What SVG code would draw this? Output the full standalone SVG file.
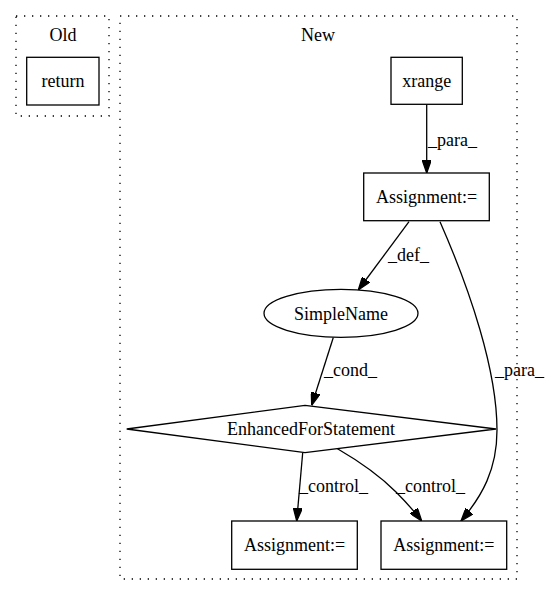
<svg xmlns="http://www.w3.org/2000/svg" width="549" height="596" viewBox="0 0 549 596">
<style>
text { font-family: "Liberation Serif", "Times New Roman", serif; font-size: 18px; fill: #000; }
.c { text-anchor: middle; }
.cluster { fill: none; stroke: #000; stroke-width: 1.3; stroke-dasharray: 1.3,6.7; }
.node { fill: #fff; stroke: #000; stroke-width: 1.3; }
.edge { fill: none; stroke: #000; stroke-width: 1.3; }
</style>
<defs>
<marker id="arr" viewBox="0 0 10 7" markerUnits="userSpaceOnUse" markerWidth="13" markerHeight="9.3" refX="10" refY="3.5" orient="auto">
<path d="M0,0 L10,3.5 L0,7 z" fill="#000" stroke="#000"/>
</marker>
</defs>
<rect width="549" height="596" fill="#fff"/>
<g id="cluster_old">
<rect class="cluster" x="16" y="16" width="93" height="100"/>
<text class="c" x="63" y="41">Old</text>
</g>
<g id="cluster_new">
<rect class="cluster" x="120" y="16" width="397" height="563"/>
<text class="c" x="318" y="41">New</text>
</g>
<g id="edges">
<path class="edge" d="M426.7,104.5 L426.7,173" marker-end="url(#arr)"/>
<text x="428" y="146">_para_</text>
<path class="edge" d="M409,221.7 L358.3,290" marker-end="url(#arr)"/>
<text x="388" y="261">_def_</text>
<path class="edge" d="M440,221.7 C470,290 497,370 497,430 C497,470 482,496 461,521" marker-end="url(#arr)"/>
<text x="495" y="376">_para_</text>
<path class="edge" d="M333.3,337.5 L311.7,405.3" marker-end="url(#arr)"/>
<text x="324" y="376">_cond_</text>
<path class="edge" d="M302.7,452.7 L296.7,521" marker-end="url(#arr)"/>
<text x="299" y="492">_control_</text>
<path class="edge" d="M336.7,448.3 C362,463 382,478 396,492 C406,502 414,511 421.7,521" marker-end="url(#arr)"/>
<text x="396" y="492">_control_</text>
</g>
<g id="node_return">
<rect class="node" x="26.7" y="57.3" width="72.3" height="47.7"/>
<text class="c" x="63" y="87">return</text>
</g>
<g id="node_xrange">
<rect class="node" x="391" y="57.3" width="71.3" height="47"/>
<text class="c" x="426.7" y="87">xrange</text>
</g>
<g id="node_assign_top">
<rect class="node" x="363.7" y="173" width="125.6" height="47.7"/>
<text class="c" x="426.5" y="203">Assignment:=</text>
</g>
<g id="node_simplename">
<ellipse class="node" cx="341" cy="313.3" rx="77" ry="24"/>
<text class="c" x="341" y="319.5">SimpleName</text>
</g>
<g id="node_efs">
<polygon class="node" points="305,405.3 496,429 305,452.7 126.7,429"/>
<text class="c" x="311" y="435">EnhancedForStatement</text>
</g>
<g id="node_assign_left">
<rect class="node" x="231.7" y="521" width="125.6" height="48.3"/>
<text class="c" x="294.5" y="551">Assignment:=</text>
</g>
<g id="node_assign_right">
<rect class="node" x="381" y="521" width="125.7" height="48.3"/>
<text class="c" x="443.8" y="551">Assignment:=</text>
</g>
</svg>
